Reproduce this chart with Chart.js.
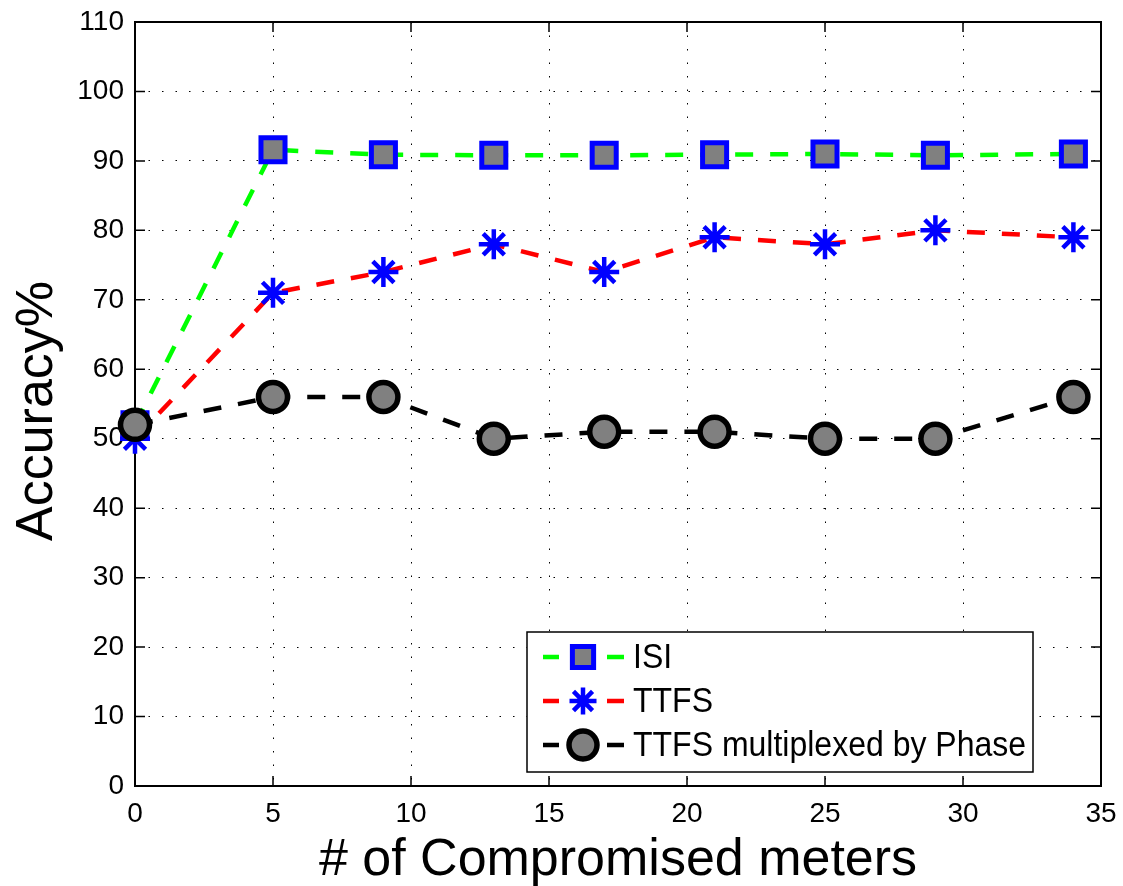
<!DOCTYPE html>
<html>
<head>
<meta charset="utf-8">
<script src="https://cdn.jsdelivr.net/npm/chart.js@4/dist/chart.umd.min.js"></script>
<style>
html,body{margin:0;padding:0;background:#fff;}
#wrap{width:1123px;height:886px;position:relative;}
</style>
</head>
<body>
<div id="wrap"><canvas id="c" width="1123" height="886"></canvas></div>
<script>
// ---- data ----
const meters = [0, 5, 9, 13, 17, 21, 25, 29, 34];
const isiAcc = [52, 91.6, 90.9, 90.8, 90.8, 90.9, 91.0, 90.8, 91.0];
const ttfsAcc = [50, 71, 74, 78, 74, 79, 78, 80, 79];
const phaseAcc = [52, 56, 56, 50, 51, 51, 50, 50, 56];
const seriesNames = ['ISI', 'TTFS', 'TTFS multiplexed by Phase'];
const xTicks = [0, 5, 10, 15, 20, 25, 30, 35];
const yTicks = [0, 10, 20, 30, 40, 50, 60, 70, 80, 90, 100, 110];
const xTitle = '# of Compromised meters';
const yTitle = 'Accuracy%';

const FONT = "'Liberation Sans', Arial, Helvetica, sans-serif";

function pts(vals){ return meters.map((m,i)=>({x:m, y:vals[i]})); }

const datasets = [
  {label: seriesNames[0], data: pts(isiAcc), borderColor:'#00ff00', borderWidth:4.5, borderDash:[18,17],
   pointStyle:'rect', pointRadius:17, pointHoverRadius:17, pointBorderWidth:5, pointBorderColor:'#0000ff',
   pointBackgroundColor:'#808080', order:2, clip:false, fill:false, tension:0, legendRadius:15},
  {label: seriesNames[1], data: pts(ttfsAcc), borderColor:'#ff0000', borderWidth:4.5, borderDash:[18,17],
   pointStyle:'star', pointRadius:15, pointHoverRadius:15, pointBorderWidth:4.5, pointBorderColor:'#0000ff',
   pointBackgroundColor:'#0000ff', order:1, clip:false, fill:false, tension:0, legendRadius:13.5},
  {label: seriesNames[2], data: pts(phaseAcc), borderColor:'#000000', borderWidth:4.5, borderDash:[18,17],
   pointStyle:'circle', pointRadius:14.5, pointHoverRadius:14.5, pointBorderWidth:5.5, pointBorderColor:'#000000',
   pointBackgroundColor:'#808080', order:0, clip:false, fill:false, tension:0, legendRadius:14}
];

const boxPlugin = {
  id:'boxPlugin',
  beforeDatasetsDraw(chart){
    const {ctx, chartArea:a, scales:{x,y}} = chart;
    ctx.save();
    ctx.strokeStyle='#000'; ctx.lineWidth=1.5; ctx.setLineDash([]);
    const tl = 10;
    ctx.beginPath();
    xTicks.forEach(v=>{ const px=x.getPixelForValue(v);
      ctx.moveTo(px,a.bottom); ctx.lineTo(px,a.bottom-tl);
      ctx.moveTo(px,a.top); ctx.lineTo(px,a.top+tl); });
    yTicks.forEach(v=>{ const py=y.getPixelForValue(v);
      ctx.moveTo(a.left,py); ctx.lineTo(a.left+tl,py);
      ctx.moveTo(a.right,py); ctx.lineTo(a.right-tl,py); });
    ctx.stroke();
    ctx.lineWidth=2;
    ctx.strokeRect(a.left, a.top, a.right-a.left, a.bottom-a.top);
    ctx.restore();
  },
  afterDraw(chart){
    const {ctx, chartArea:a} = chart;
    ctx.save();
    ctx.fillStyle='#000';
    ctx.font = '52px ' + FONT;
    ctx.textAlign='center'; ctx.textBaseline='alphabetic';
    ctx.fillText(xTitle, (a.left+a.right)/2, 875);
    ctx.translate(52, 411);
    ctx.rotate(-Math.PI/2);
    ctx.fillText(yTitle, 0, 0);
    ctx.restore();

    // legend
    const L = {x:527, y:632, w:506, h:140};
    ctx.save();
    ctx.fillStyle='#fff';
    ctx.fillRect(L.x, L.y, L.w, L.h);
    ctx.strokeStyle='#000'; ctx.lineWidth=1.5;
    ctx.strokeRect(L.x, L.y, L.w, L.h);
    const rows = [657, 701, 745];
    chart.data.datasets.forEach((ds,i)=>{
      const ry = rows[i];
      ctx.strokeStyle = ds.borderColor; ctx.lineWidth = ds.borderWidth; ctx.setLineDash([]);
      ctx.beginPath();
      ctx.moveTo(543, ry); ctx.lineTo(559, ry);
      ctx.moveTo(607, ry); ctx.lineTo(624, ry);
      ctx.stroke();
      ctx.fillStyle = ds.pointBackgroundColor; ctx.strokeStyle = ds.pointBorderColor;
      ctx.lineWidth = ds.pointBorderWidth;
      Chart.helpers.drawPoint(ctx, {pointStyle: ds.pointStyle, radius: ds.legendRadius, rotation:0, borderWidth: ds.pointBorderWidth}, 583, ry);
      ctx.save();
      ctx.fillStyle='#000';
      ctx.font = '32px ' + FONT;
      ctx.textAlign='left'; ctx.textBaseline='middle';
      ctx.translate(633, ry+1);
      ctx.scale(1, 1.12);
      ctx.fillText(ds.label, 0, 0);
      ctx.restore();
    });
    ctx.restore();
  }
};

new Chart(document.getElementById('c'), {
  type:'line',
  data:{datasets},
  plugins:[boxPlugin],
  options:{
    responsive:false, animation:false, devicePixelRatio:1,
    layout:{padding:{top:21, right:20, left:0, bottom:0}},
    plugins:{legend:{display:false}, tooltip:{enabled:false}},
    scales:{
      x:{type:'linear', min:0, max:35,
        afterFit(s){ s.height = 100; s.paddingLeft = 0; s.paddingRight = 0; },
        afterBuildTicks(s){ s.ticks = xTicks.map(v=>({value:v})); },
        ticks:{font:{size:28, family:FONT}, color:'#000', padding:11, maxRotation:0},
        grid:{color:'#000', lineWidth:1, drawTicks:false},
        border:{display:false, dash:[1.5,12]}
      },
      y:{type:'linear', min:0, max:110,
        afterFit(s){ s.width = 135; s.paddingTop = 0; s.paddingBottom = 0; },
        afterBuildTicks(s){ s.ticks = yTicks.map(v=>({value:v})); },
        ticks:{font:{size:28, family:FONT}, color:'#000', padding:11},
        grid:{color:'#000', lineWidth:1, drawTicks:false},
        border:{display:false, dash:[1.5,12]}
      }
    }
  }
});
</script>
</body>
</html>
